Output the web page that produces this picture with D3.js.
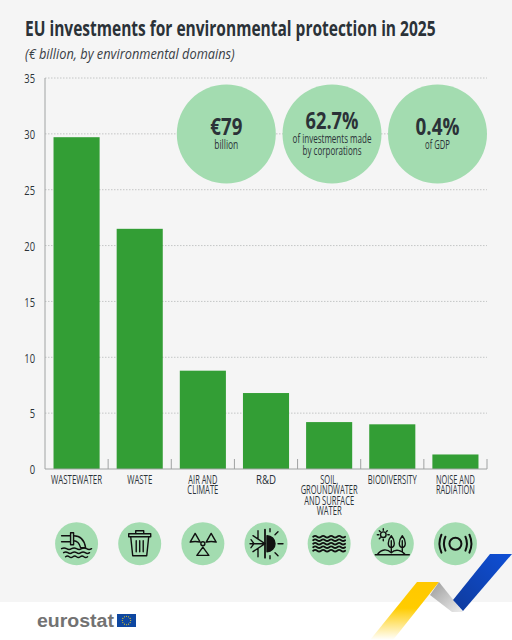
<!DOCTYPE html>
<html>
<head>
<meta charset="utf-8">
<script src="https://cdn.jsdelivr.net/npm/d3@7"></script>
<style>
  html, body { margin: 0; padding: 0; background: #fff; }
  svg { display: block; }
</style>
</head>
<body>
<script>
var categories = ["WASTEWATER", "WASTE", "AIR AND CLIMATE", "R&D", "SOIL, GROUNDWATER AND SURFACE WATER", "BIODIVERSITY", "NOISE AND RADIATION"];
var values = [29.7, 21.5, 8.8, 6.8, 4.2, 4.0, 1.3];
var categoryLines = [["WASTEWATER"], ["WASTE"], ["AIR AND", "CLIMATE"], ["R&D"], ["SOIL,", "GROUNDWATER", "AND SURFACE", "WATER"], ["BIODIVERSITY"], ["NOISE AND", "RADIATION"]];
var categoryWidths = [[51], [25], [29, 31], [20], [18, 57, 50, 25], [49], [39, 39]];
var yTicks = [0, 5, 10, 15, 20, 25, 30, 35];
var bubbleBig = ["€79", "62.7%", "0.4%"];
var bubbleSmall = [["billion"], ["of investments made", "by corporations"], ["of GDP"]];
var bubbleBigWidths = [32, 53, 44];
var bubbleSmallWidths = [[24], [79, 59], [25]];
var bubbleX = [226.3, 332, 437.5];

var width = 512, height = 640;
var FONT = "'Open Sans', sans-serif";
var INK = "#2b3238";

var svg = d3.select("body").append("svg")
  .attr("width", width)
  .attr("height", height);

// background
svg.append("rect").attr("width", width).attr("height", height).style("fill", "#fff");
svg.append("rect").attr("width", width).attr("height", 602).style("fill", "#f5f5f5");

// squeezed text, the original face is a condensed one
function label(parent, x, y, str, size, w, opts) {
  opts = opts || {};
  var t = parent.append("text")
    .attr("text-anchor", opts.anchor || "middle")
    .style("font-family", opts.font || FONT)
    .style("font-size", size + "px")
    .style("font-weight", opts.weight || 400)
    .style("font-style", opts.style || "normal")
    .style("fill", opts.fill || INK)
    .text(str);
  var natural = t.node().getComputedTextLength();
  t.attr("transform", "translate(" + x + "," + y + ") scale(" + (w / natural) + ",1)");
  return t;
}

label(svg, 25, 36, "EU investments for environmental protection in 2025", 22, 411, {anchor: "start", weight: 700});
label(svg, 25, 59, "(€ billion, by environmental domains)", 14, 210, {anchor: "start", style: "italic", fill: "#3a4046"});

var x = d3.scaleBand().domain(categories).range([45, 487]).paddingInner(0.27).paddingOuter(0.135);
var y = d3.scaleLinear().domain([0, 35]).range([469, 78]);

// grid
svg.append("g").selectAll("line")
  .data(yTicks.filter(function (d) { return d > 0; }))
  .join("line")
  .attr("x1", 45)
  .attr("x2", 487)
  .attr("y1", function (d) { return y(d); })
  .attr("y2", function (d) { return y(d); })
  .style("stroke", "#c4c6c6")
  .style("stroke-width", 1)
  .style("stroke-dasharray", "1.5 1.5");

// bubbles sit on top of the grid
var bubbles = svg.append("g");
bubbleBig.forEach(function (big, i) {
  var cx = bubbleX[i], small = bubbleSmall[i];
  bubbles.append("circle").attr("cx", cx).attr("cy", 134).attr("r", 49.5).style("fill", "#a3dcb0");
  var by = small.length > 1 ? 129 : 135;
  label(bubbles, cx, by, big, 23, bubbleBigWidths[i], {weight: 700});
  small.forEach(function (s, j) {
    label(bubbles, cx, by + 14 + j * 12, s, 12.5, bubbleSmallWidths[i][j], {weight: 500});
  });
});

// bars
svg.append("g").selectAll("rect")
  .data(values)
  .join("rect")
  .attr("x", function (d, i) { return x(categories[i]); })
  .attr("y", function (d) { return y(d); })
  .attr("width", x.bandwidth())
  .attr("height", function (d) { return y(0) - y(d); })
  .style("fill", "#339e35");

// axes
var yAxis = d3.axisLeft(y).tickValues(yTicks).tickSize(0).tickPadding(0);
var gy = svg.append("g").attr("transform", "translate(35,1)").call(yAxis);
gy.select(".domain").remove();
gy.selectAll("text")
  .style("font-family", FONT)
  .style("font-size", "12px")
  .style("fill", INK)
  .attr("transform", "scale(0.78,1)");

svg.append("line").attr("x1", 45).attr("x2", 45).attr("y1", 78).attr("y2", 469).style("stroke", "#a0a3a3").style("stroke-width", 1);
svg.append("line").attr("x1", 45).attr("x2", 487).attr("y1", 469).attr("y2", 469).style("stroke", "#a0a3a3").style("stroke-width", 1);

svg.append("g").selectAll("line")
  .data(categories)
  .join("line")
  .attr("x1", function (d) { return x(d) + x.bandwidth() + x.step() * 0.135; })
  .attr("x2", function (d) { return x(d) + x.bandwidth() + x.step() * 0.135; })
  .attr("y1", 459)
  .attr("y2", 469)
  .style("stroke", "#a0a3a3");

// category labels
categories.forEach(function (c, i) {
  categoryLines[i].forEach(function (line, j) {
    label(svg, x(c) + x.bandwidth() / 2, 483.5 + j * 10.5, line, 11.8, categoryWidths[i][j], {weight: 500});
  });
});

// icons
var iconStroke = "#111";
function icon(i) {
  var g = svg.append("g")
    .attr("transform", "translate(" + (x(categories[i]) + x.bandwidth() / 2) + ",543.7)");
  g.append("circle").attr("r", 21.5).style("fill", "#a3dcb0");
  return g.append("g")
    .style("fill", "none")
    .style("stroke", iconStroke)
    .style("stroke-width", 1.4)
    .style("stroke-linecap", "round")
    .style("stroke-linejoin", "round");
}
function wave(g, cx, cy, n, w, amp) {
  var d = "M" + (cx - w / 2) + "," + cy;
  var s = w / n;
  for (var k = 0; k < n; k++) d += "q" + (s / 2) + "," + (k % 2 ? amp : -amp) + " " + s + ",0";
  return g.append("path").attr("d", d);
}

// wastewater
var ic = icon(0);
ic.append("path").attr("d", "M-15,-8H-6M-15,-2H-6M-6,-11V1M-3,-11V1M-6,-11H-3M-6,1H-3");
ic.append("path").attr("d", "M-3,-8C5,-8 8,-3 9,4M-3,-3C1,-3 3,0 4,4M4,4H9");
wave(ic, 0, 5, 6, 30, 1.5);
wave(ic, 0, 9, 6, 26, 1.5);
wave(ic, 0, 13, 6, 22, 1.5);

// waste bin
ic = icon(1);
ic.append("path").attr("d", "M-11,-10H11V-7H-11ZM-4,-10V-13H4V-10");
ic.append("path").attr("d", "M-9,-7L-7,12H7L9,-7");
ic.append("path").attr("d", "M-3.5,-3V8M0,-3V8M3.5,-3V8");

// radiation
ic = icon(2);
ic.append("circle").attr("r", 2);
ic.append("path").attr("d", "M-7.7,-10.3L-12.7,-1.5Q-7.7,-3 -2.7,-1.5Z");
ic.append("path").attr("d", "M8.3,-10.3L13.3,-1.5Q8.3,-3 3.3,-1.5Z");
ic.append("path").attr("d", "M0,3.5L6,11.7H-6Z");

// R&D, snowflake and sun
ic = icon(3);
ic.append("path").attr("d", "M-1,-14V14").style("stroke-width", 1.8);
ic.append("path").attr("d", "M-16,0H-1M-13,-8L-1,0M-13,8L-1,0M-8,-13L-8,-5M-8,13L-8,5M-15,-4L-12,0L-15,4");
ic.append("path").attr("d", "M1,-8A8,8 0 0 1 1,8Z").style("fill", iconStroke);
ic.append("path").attr("d", "M12,0H17M9,-9L12,-12M9,9L12,12M4,-12V-15M4,12V15");

// water
ic = icon(4);
[-7, -3.5, 0, 3.5, 7].forEach(function (wy) {
  wave(ic, 0, wy, 8, 32, 1.6).style("stroke-width", 1.8);
});

// biodiversity
ic = icon(5);
ic.append("circle").attr("cx", -9).attr("cy", -9).attr("r", 2.8);
ic.append("path").attr("d", "M-9,-15V-13.5M-9,-3V-4.5M-15,-9H-13.5M-3,-9H-4.5M-13,-13L-12,-12M-5,-13L-6,-12M-13,-5L-12,-6");
ic.append("path").attr("d", "M-1,-8C-5,-3 -5,3 -1,4C3,3 3,-3 -1,-8ZM-1,-3V8");
ic.append("path").attr("d", "M10,-8C6,-3 6,3 10,4C14,3 14,-3 10,-8ZM10,-3V8");
ic.append("path").attr("d", "M-15,11C-11,5 -5,5 -1,9C3,5 9,6 13,11ZM-17,11H17");

// noise
ic = icon(6);
ic.style("stroke-width", 2);
ic.append("circle").attr("r", 6);
ic.append("path").attr("d", "M-10,-7Q-13,0 -10,7M10,-7Q13,0 10,7");
ic.append("path").attr("d", "M-14,-9Q-18,0 -14,9M14,-9Q18,0 14,9");

// footer
label(svg, 37, 627, "eurostat", 18, 77, {anchor: "start", font: "'Liberation Sans', sans-serif", weight: 700, fill: "#727272"});

svg.append("rect").attr("x", 117).attr("y", 614).attr("width", 19).attr("height", 13).style("fill", "#0e47a1");
svg.append("g").attr("transform", "translate(126.5,620.5)").selectAll("circle")
  .data(d3.range(12))
  .join("circle")
  .attr("cx", function (d) { return 4.2 * Math.cos(d * Math.PI / 6); })
  .attr("cy", function (d) { return 4.2 * Math.sin(d * Math.PI / 6); })
  .attr("r", 0.55)
  .style("fill", "#ffd617");

// ribbon
var defs = svg.append("defs");
var gold = defs.append("linearGradient").attr("id", "ribbon-gold")
  .attr("gradientUnits", "userSpaceOnUse")
  .attr("x1", 0).attr("y1", 640).attr("x2", 0).attr("y2", 582);
gold.append("stop").attr("offset", "0").attr("stop-color", "#ffcc00").attr("stop-opacity", 0);
gold.append("stop").attr("offset", "0.55").attr("stop-color", "#ffcc00");
gold.append("stop").attr("offset", "1").attr("stop-color", "#ffc800");
var grey = defs.append("linearGradient").attr("id", "ribbon-grey")
  .attr("x1", 0).attr("y1", 0).attr("x2", 1).attr("y2", 1);
grey.append("stop").attr("offset", "0").attr("stop-color", "#9a9a9a");
grey.append("stop").attr("offset", "1").attr("stop-color", "#ededed");
var blue = defs.append("linearGradient").attr("id", "ribbon-blue")
  .attr("x1", 0).attr("y1", 1).attr("x2", 1).attr("y2", 0);
blue.append("stop").attr("offset", "0").attr("stop-color", "#0f3b9c");
blue.append("stop").attr("offset", "1").attr("stop-color", "#0f4fd6");

svg.append("path").attr("d", "M417,582L439,582L393,640L370,640Z").style("fill", "url(#ribbon-gold)");
svg.append("path").attr("d", "M439,582L463,612L452,612L430,595Z").style("fill", "url(#ribbon-grey)");
svg.append("path").attr("d", "M453,600L490,554L512,554L463,611Z").style("fill", "url(#ribbon-blue)");
</script>
</body>
</html>
